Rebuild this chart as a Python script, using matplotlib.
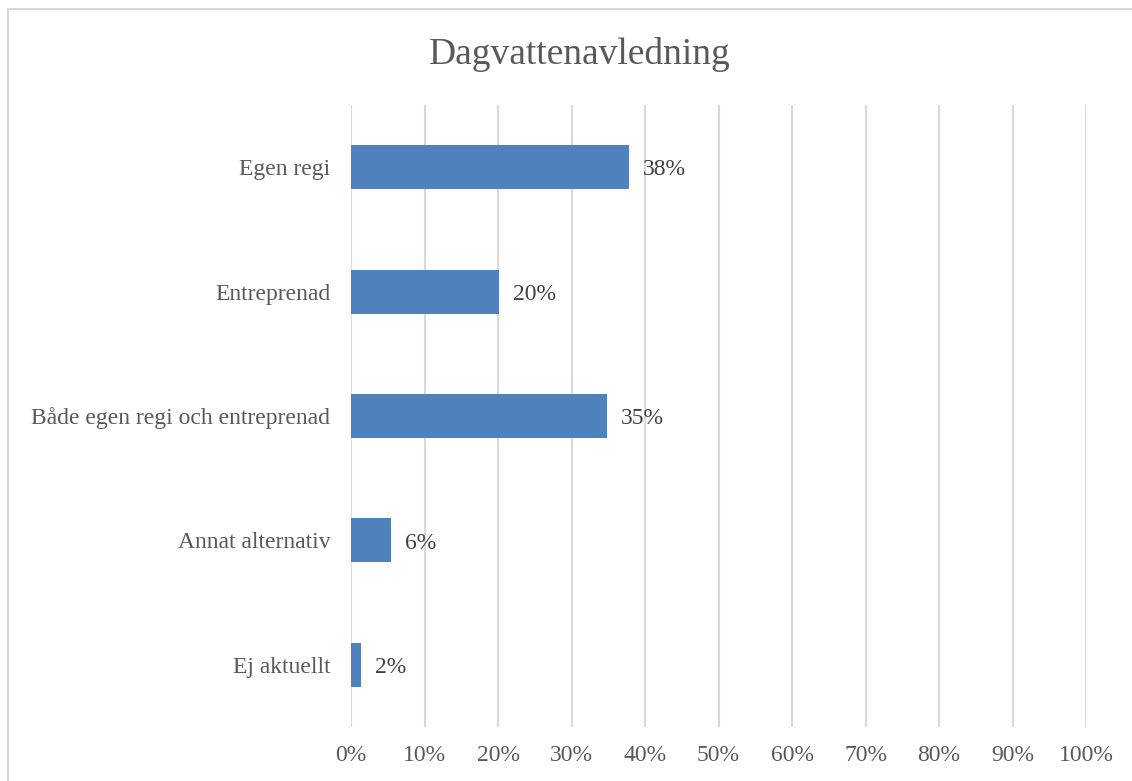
import matplotlib
matplotlib.use("Agg")
import matplotlib.pyplot as plt
from matplotlib.patches import Rectangle

categories = ["Egen regi", "Entreprenad", "Både egen regi och entreprenad",
              "Annat alternativ", "Ej aktuellt"]
values = [37.8, 20.1, 34.8, 5.5, 1.4]
labels = ["38%", "20%", "35%", "6%", "2%"]
ticks = list(range(0, 101, 10))

plt.rcParams['font.family'] = ['Liberation Serif', 'DejaVu Serif']
grey = "#595959"

fig = plt.figure(figsize=(11.32, 7.81), dpi=100)
ax = fig.add_axes([351 / 1132, 54 / 781, 735 / 1132, 622 / 781])

# border of the chart area (only left and top visible in the crop)
fig.patches.append(Rectangle((8 / 1132, -0.1), 1.2, (781 - 9) / 781 + 0.1,
                             transform=fig.transFigure, fill=False,
                             edgecolor="#D9D9D9", linewidth=1.5))

y = list(range(len(categories)))
ax.barh(y, values, height=0.355, color="#4F81BD", zorder=3)
for yi, v, lab in zip(y, values, labels):
    ax.annotate(lab, (v, yi), xytext=(10, -2), textcoords="offset points",
                va="center", ha="left", fontsize=17, color="#404040")

ax.set_xlim(0, 100)
ax.set_ylim(len(categories) - 0.5, -0.5)
ax.set_xticks(ticks)
ax.set_xticklabels([f"{t}%" for t in ticks])
ax.set_yticks(y)
ax.set_yticklabels(categories)
ax.tick_params(axis="both", length=0, labelsize=17, labelcolor=grey)
ax.tick_params(axis="x", pad=13)
ax.tick_params(axis="y", pad=15)
ax.grid(axis="x", color="#D9D9D9", linewidth=1.5, zorder=0)
for s in ax.spines.values():
    s.set_visible(False)

fig.text(580 / 1132, 1 - 54 / 781, "Dagvattenavledning", ha="center", va="center",
         fontsize=27, color=grey)

fig.savefig("out.png", dpi=100)
